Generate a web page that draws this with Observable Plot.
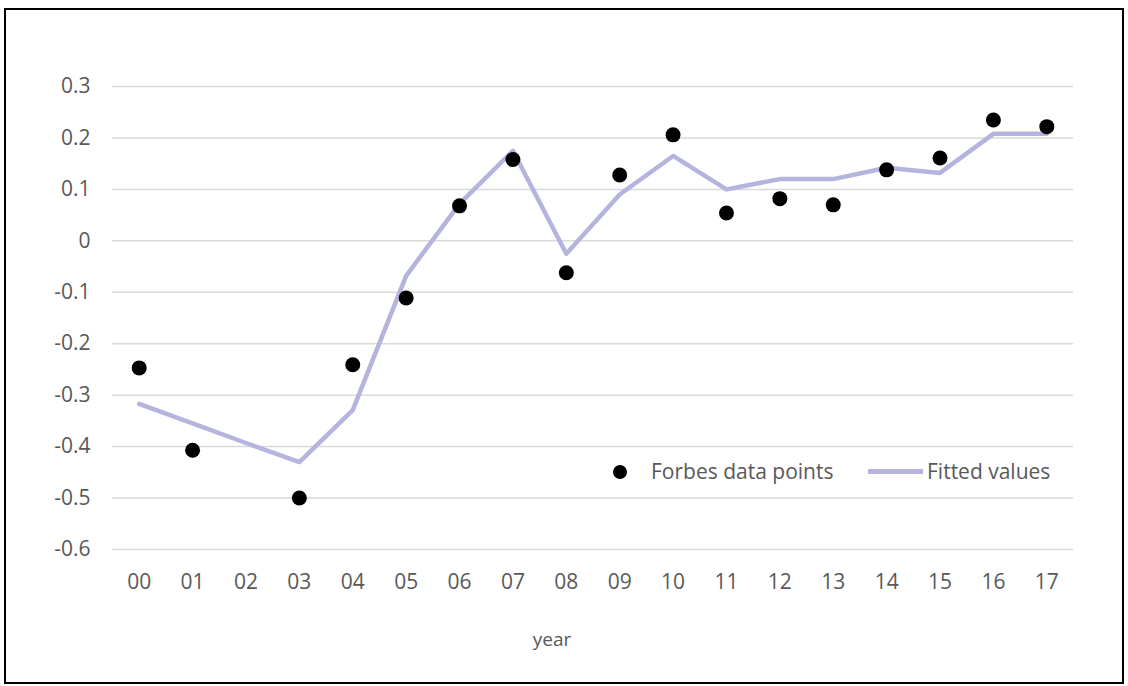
<!DOCTYPE html>
<html>
<head>
<meta charset="utf-8">
<script src="https://cdn.jsdelivr.net/npm/d3@7"></script>
<script src="https://cdn.jsdelivr.net/npm/@observablehq/plot@0.6"></script>
<style>
  html, body { margin: 0; padding: 0; background: #fff; }
  body { width: 1128px; height: 686px; position: relative; overflow: hidden; font-family: "Open Sans", sans-serif; }
  #frame { position: absolute; left: 4px; top: 8px; width: 1116px; height: 672px; border: 2px solid #000; }
  #chart { position: absolute; left: 0; top: 0; }
  .lbl { position: absolute; color: #595959; font-size: 21px; line-height: 21px; white-space: nowrap; }
</style>
</head>
<body>
<div id="frame">
  <div id="chart"></div>
  <div class="lbl" id="xtitle" style="left:496px; width:100px; text-align:center; top:619px; font-size:19px;">year</div>
  <div id="legend"></div>
</div>
<script>
const years = ["00","01","02","03","04","05","06","07","08","09","10","11","12","13","14","15","16","17"];
const forbes = [-0.247, -0.407, null, -0.500, -0.241, -0.111, 0.068, 0.158, -0.062, 0.128, 0.206, 0.054, 0.082, 0.070, 0.138, 0.161, 0.235, 0.222];
const fitted = [-0.317, -0.355, -0.393, -0.430, -0.329, -0.068, 0.072, 0.175, -0.025, 0.090, 0.165, 0.100, 0.120, 0.120, 0.142, 0.132, 0.208, 0.208];
const yTicks = [0.3, 0.2, 0.1, 0, -0.1, -0.2, -0.3, -0.4, -0.5, -0.6];
const seriesNames = ["Forbes data points", "Fitted values"];

const pointData = years.map((yr, i) => ({year: yr, value: forbes[i]})).filter(d => d.value !== null);
const fitData = years.map((yr, i) => ({year: yr, value: fitted[i]}));

const lineColor = "#b4b4de";

const plot = Plot.plot({
  width: 1116,
  height: 672,
  marginLeft: 106,
  marginRight: 49,
  marginTop: 76,
  marginBottom: 133,
  style: {fontFamily: "Open Sans", fontSize: "21px", color: "#595959", background: "transparent"},
  x: {type: "point", domain: years, padding: 0.5, round: false, label: null},
  y: {domain: [-0.6, 0.3], label: null},
  marks: [
    Plot.ruleY(yTicks, {stroke: "#d9d9d9", strokeWidth: 1.5}),
    Plot.axisY({ticks: yTicks, tickSize: 0, tickPadding: 22, tickFormat: d => d === 0 ? "0" : d.toFixed(1), label: null}),
    Plot.axisX({tickSize: 0, tickPadding: 25, label: null}),
    Plot.line(fitData, {x: "year", y: "value", stroke: lineColor, strokeWidth: 4.5, strokeLinejoin: "round"}),
    Plot.dot(pointData, {x: "year", y: "value", r: 7.5, fill: "#000", stroke: "none"})
  ]
});
document.getElementById("chart").appendChild(plot);

// legend
const legend = document.getElementById("legend");
legend.innerHTML = `
  <div style="position:absolute; left:607px; top:455px; width:14px; height:14px; border-radius:50%; background:#000;"></div>
  <div class="lbl" style="left:645px; top:451px;">${seriesNames[0]}</div>
  <div style="position:absolute; left:862px; top:459px; width:55px; height:5px; background:${lineColor};"></div>
  <div class="lbl" style="left:921px; top:451px;">${seriesNames[1]}</div>
`;
</script>
</body>
</html>
